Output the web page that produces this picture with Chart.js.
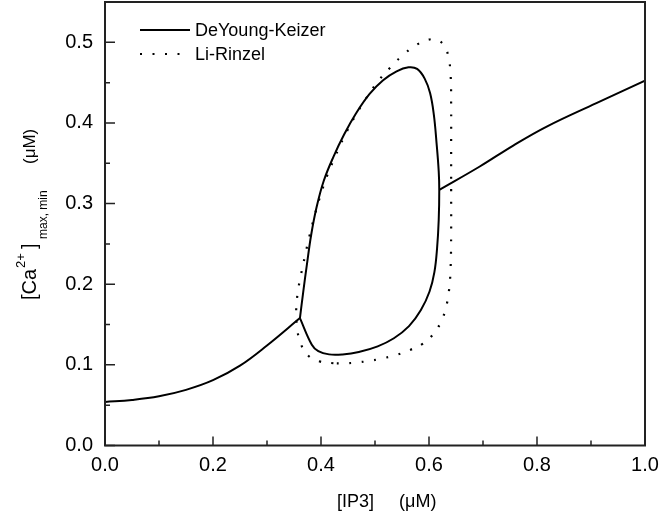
<!DOCTYPE html>
<html>
<head>
<meta charset="utf-8">
<script src="https://cdn.jsdelivr.net/npm/chart.js@4.4.1/dist/chart.umd.min.js"></script>
<style>
  html, body { margin: 0; padding: 0; background: #fff; }
  #wrap { width: 661px; height: 524px; position: relative; }
</style>
</head>
<body>
<div id="wrap"><canvas id="chart"></canvas></div>
<script>
// steady state branches (DeYoung-Keizer)
const ssLowX = [0, 0.05, 0.1, 0.15, 0.2, 0.25, 0.3, 0.361];
const ssLowY = [0.054, 0.0565, 0.061, 0.069, 0.081, 0.099, 0.124, 0.158];
const ssHighX = [0.619, 0.694, 0.756, 0.818, 0.910, 1.0];
const ssHighY = [0.317, 0.346, 0.372, 0.3955, 0.4246, 0.4526];

// oscillation max/min loop, DeYoung-Keizer
const dkLoopX = [0.361, 0.367, 0.374, 0.382, 0.392, 0.405, 0.423, 0.443, 0.465, 0.490, 0.515, 0.540, 0.562, 0.578, 0.592, 0.602, 0.609, 0.614, 0.618, 0.619, 0.618, 0.615, 0.610, 0.601, 0.585, 0.563, 0.535, 0.505, 0.470, 0.440, 0.415, 0.395, 0.383, 0.361];
const dkLoopY = [0.158, 0.190, 0.225, 0.262, 0.296, 0.328, 0.358, 0.386, 0.412, 0.436, 0.453, 0.464, 0.469, 0.467, 0.455, 0.437, 0.410, 0.375, 0.340, 0.317, 0.280, 0.245, 0.215, 0.191, 0.168, 0.148, 0.133, 0.123, 0.116, 0.113, 0.113, 0.117, 0.125, 0.158];

// oscillation max/min loop, Li-Rinzel
const lrLoopX = [0.423, 0.399, 0.377, 0.362, 0.356, 0.354, 0.357, 0.363, 0.370, 0.378, 0.387, 0.398, 0.411, 0.426, 0.443, 0.462, 0.483, 0.506, 0.530, 0.553, 0.575, 0.597, 0.615, 0.628, 0.636, 0.640, 0.641, 0.641, 0.641, 0.641, 0.640, 0.637, 0.631, 0.622, 0.608, 0.588, 0.563, 0.538, 0.513, 0.490, 0.467, 0.445, 0.423];
const lrLoopY = [0.102, 0.104, 0.111, 0.127, 0.145, 0.167, 0.190, 0.212, 0.234, 0.258, 0.282, 0.308, 0.334, 0.358, 0.383, 0.407, 0.430, 0.452, 0.470, 0.485, 0.496, 0.503, 0.503, 0.496, 0.482, 0.460, 0.420, 0.370, 0.315, 0.265, 0.220, 0.192, 0.170, 0.153, 0.138, 0.126, 0.118, 0.112, 0.108, 0.105, 0.103, 0.102, 0.102];

// axis ticks
const xTicks = [0, 0.2, 0.4, 0.6, 0.8, 1.0];
const xMinor = [0.1, 0.3, 0.5, 0.7, 0.9];
const yTicks = [0, 0.1, 0.2, 0.3, 0.4, 0.5];
const yMinor = [0.05, 0.15, 0.25, 0.35, 0.45];

const FONT = '"Liberation Sans", Arial, sans-serif';

function pts(xs, ys) {
  return xs.map((x, i) => ({ x: x, y: ys[i] }));
}

const solid = { borderColor: '#000', borderWidth: 2, pointRadius: 0, showLine: true, tension: 0.4, fill: false };
const dotted = { borderColor: '#000', borderWidth: 2.2, borderDash: [2, 10.5], pointRadius: 0, showLine: true, tension: 0.4, fill: false };

// frame, inward ticks, legend and axis titles
const decor = {
  id: 'decor',
  afterDraw(chart) {
    const ctx = chart.ctx;
    const a = chart.chartArea;
    const xs = chart.scales.x, ys = chart.scales.y;
    ctx.save();
    ctx.strokeStyle = '#222';
    ctx.lineWidth = 2;
    ctx.strokeRect(a.left, a.top, a.right - a.left, a.bottom - a.top);

    ctx.lineWidth = 1.5;
    ctx.beginPath();
    xTicks.forEach(v => { const p = xs.getPixelForValue(v); ctx.moveTo(p, a.bottom); ctx.lineTo(p, a.bottom - 9); });
    xMinor.forEach(v => { const p = xs.getPixelForValue(v); ctx.moveTo(p, a.bottom); ctx.lineTo(p, a.bottom - 5); });
    yTicks.forEach(v => { const p = ys.getPixelForValue(v); ctx.moveTo(a.left, p); ctx.lineTo(a.left + 10, p); });
    yMinor.forEach(v => { const p = ys.getPixelForValue(v); ctx.moveTo(a.left, p); ctx.lineTo(a.left + 5, p); });
    ctx.stroke();

    // legend
    ctx.fillStyle = '#000';
    ctx.textBaseline = 'middle';
    ctx.font = '18px ' + FONT;
    [[chart.data.datasets[0], 30], [chart.data.datasets[3], 54]].forEach(([ds, y]) => {
      ctx.save();
      ctx.strokeStyle = ds.borderColor;
      ctx.lineWidth = ds.borderWidth;
      ctx.setLineDash(ds.borderDash || []);
      ctx.beginPath();
      ctx.moveTo(140, y);
      ctx.lineTo(190, y);
      ctx.stroke();
      ctx.restore();
      ctx.fillText(ds.label, 195, y + 1);
    });

    // x title
    ctx.textBaseline = 'alphabetic';
    ctx.font = '18px ' + FONT;
    ctx.fillText('[IP3]     (\u03bcM)', 337, 507);

    // y title with super/subscript
    ctx.rotate(-Math.PI / 2);
    const segs = [
      ['[Ca', 300, 36, 20],
      ['2+', 268, 25, 13],
      [']', 249, 36, 20],
      ['max, min', 239, 47, 12],
      ['(\u03bcM)', 164, 35, 17]
    ];
    segs.forEach(([t, y, x, s]) => {
      ctx.font = s + 'px ' + FONT;
      ctx.fillText(t, -y, x);
    });
    ctx.restore();
  }
};

new Chart(document.getElementById('chart'), {
  type: 'scatter',
  data: {
    datasets: [
      Object.assign({ label: 'DeYoung-Keizer', data: pts(ssLowX, ssLowY) }, solid),
      Object.assign({ label: 'DeYoung-Keizer high', data: pts(ssHighX, ssHighY) }, solid),
      Object.assign({ label: 'DeYoung-Keizer loop', data: pts(dkLoopX, dkLoopY) }, solid),
      Object.assign({ label: 'Li-Rinzel', data: pts(lrLoopX, lrLoopY) }, dotted)
    ]
  },
  options: {
    responsive: true,
    maintainAspectRatio: false,
    animation: false,
    devicePixelRatio: 1,
    layout: { padding: { left: 0, right: 16, top: 2, bottom: 0 } },
    plugins: { legend: { display: false }, tooltip: { enabled: false } },
    scales: {
      x: {
        type: 'linear',
        min: 0,
        max: 1,
        grid: { display: false, drawTicks: false },
        border: { display: false },
        afterBuildTicks: s => { s.ticks = xTicks.map(v => ({ value: v })); },
        afterFit: s => { s.height = 78.5; s.paddingLeft = 0; s.paddingRight = 0; },
        ticks: { padding: 8, color: '#000', font: { family: FONT, size: 20 }, callback: v => v.toFixed(1), maxRotation: 0 }
      },
      y: {
        type: 'linear',
        min: 0,
        max: 0.55,
        grid: { display: false, drawTicks: false },
        border: { display: false },
        afterBuildTicks: s => { s.ticks = yTicks.map(v => ({ value: v })); },
        afterFit: s => { s.width = 105; s.paddingTop = 0; s.paddingBottom = 0; },
        ticks: { padding: 12, color: '#000', font: { family: FONT, size: 20 }, callback: v => v.toFixed(1) }
      }
    }
  },
  plugins: [decor]
});
</script>
</body>
</html>
